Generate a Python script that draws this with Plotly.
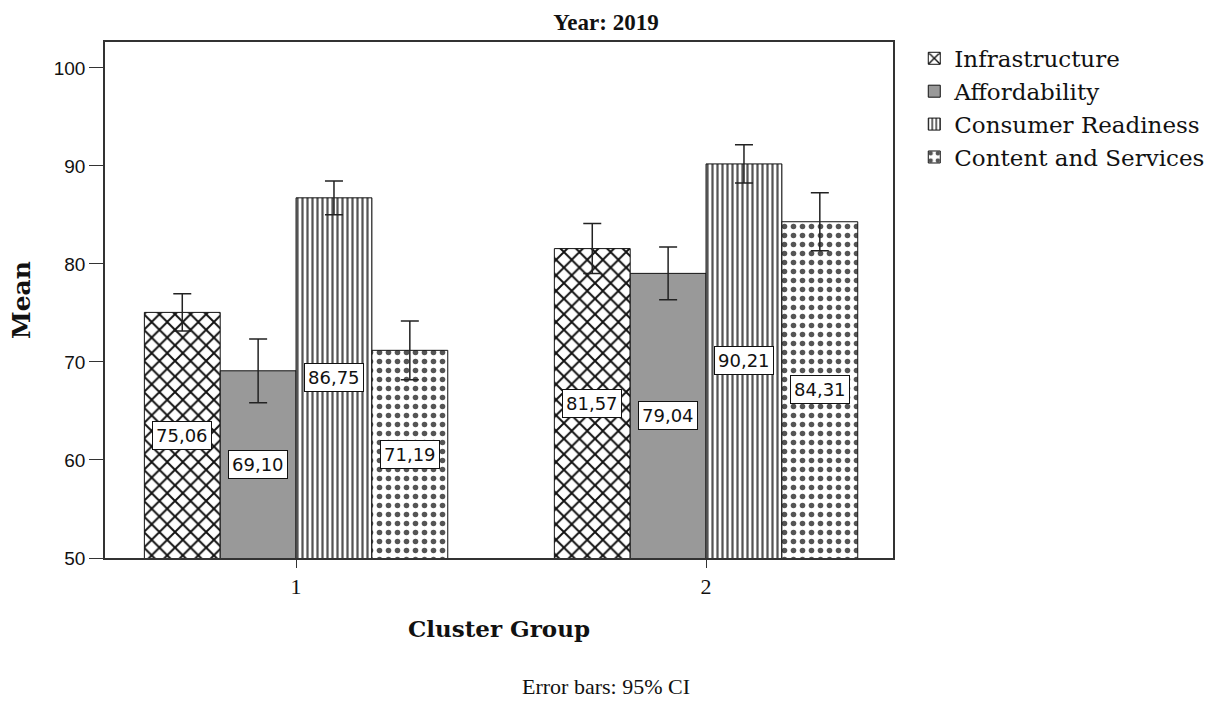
import plotly.graph_objects as go

# Cluster means by pillar, with 95% CI half-widths
clusters = [1, 2]
series_names = ["Infrastructure", "Affordability", "Consumer Readiness", "Content and Services"]
infrastructure = [75.06, 81.57]
affordability = [69.10, 79.04]
consumer_readiness = [86.75, 90.21]
content_services = [71.19, 84.31]

infrastructure_ci = [1.90, 2.55]
affordability_ci = [3.25, 2.70]
consumer_readiness_ci = [1.72, 1.95]
content_services_ci = [3.00, 2.95]

y_ticks = [50, 60, 70, 80, 90, 100]

values = [infrastructure, affordability, consumer_readiness, content_services]
cis = [infrastructure_ci, affordability_ci, consumer_readiness_ci, content_services_ci]

patterns = [
    dict(shape="x", fgcolor="#111111", bgcolor="white", size=11, solidity=0.32, fillmode="replace"),
    None,
    dict(shape="|", fgcolor="#555555", bgcolor="white", size=5, solidity=0.45, fillmode="replace"),
    dict(shape=".", fgcolor="#555555", bgcolor="white", size=9, solidity=0.3, fillmode="replace"),
]

SERIF = "Liberation Serif"
WIDE_SERIF = "DejaVu Serif"
SANS = "DejaVu Sans"
INK = "#111111"

bargap = 0.26
bar_w = (1 - bargap) / len(series_names)

fig = go.Figure()
for name, vals, ci, pat in zip(series_names, values, cis, patterns):
    marker = dict(line=dict(color=INK, width=1))
    if pat is None:
        marker["color"] = "#999999"
    else:
        marker["color"] = "white"
        marker["pattern"] = pat
    fig.add_trace(go.Bar(
        name=name,
        x=clusters,
        y=vals,
        marker=marker,
        error_y=dict(type="data", array=ci, visible=True, color="#222222",
                     thickness=1.5, width=9),
    ))

# value labels in boxes at the middle of each bar
annotations = []
for i, vals in enumerate(values):
    for c, v in zip(clusters, vals):
        annotations.append(dict(
            x=c + (i - 1.5) * bar_w,
            y=(y_ticks[0] + v) / 2,
            xref="x", yref="y",
            text=f"{v:.2f}".replace(".", ","),
            showarrow=False,
            font=dict(family=SANS, size=18, color=INK),
            bgcolor="white",
            bordercolor=INK,
            borderwidth=1,
            borderpad=3,
        ))

# footnote centred on the page width
annotations.append(dict(
    x=(606 - 105) / 788, y=-(686 - 558) / 516, xref="paper", yref="paper",
    text="Error bars: 95% CI", showarrow=False,
    font=dict(family=SERIF, size=22, color=INK),
    xanchor="center", yanchor="middle",
))

fig.update_layout(
    width=1212, height=702,
    margin=dict(l=105, r=319, t=42, b=144, autoexpand=False),
    paper_bgcolor="white",
    plot_bgcolor="white",
    barmode="group",
    bargap=bargap,
    bargroupgap=0,
    title=dict(text="<b>Year: 2019</b>", x=0.5, xanchor="center", y=0.969, yanchor="middle",
               font=dict(family=SERIF, size=23, color=INK)),
    legend=dict(x=1.027, y=1.01, xanchor="left", yanchor="top",
                font=dict(family=WIDE_SERIF, size=23, color=INK),
                bgcolor="rgba(0,0,0,0)"),
    annotations=annotations,
    showlegend=True,
)

fig.update_xaxes(
    range=[0.534, 2.456],
    tickvals=clusters,
    ticktext=[str(c) for c in clusters],
    ticks="outside", ticklen=8, tickcolor="#333333",
    showline=True, linecolor="#333333", linewidth=1.5, mirror=True,
    showgrid=False, zeroline=False,
    tickfont=dict(family=SERIF, size=22, color=INK),
    title=dict(text="<b>Cluster Group</b>", standoff=23,
               font=dict(family=WIDE_SERIF, size=23, color=INK)),
)
fig.update_yaxes(
    range=[50, 102.65],
    tickvals=y_ticks,
    ticks="outside", ticklen=14, tickcolor="#333333",
    showline=True, linecolor="#333333", linewidth=1.5, mirror=True,
    showgrid=False, zeroline=False,
    tickfont=dict(family="Liberation Sans", size=19, color=INK),
    title=dict(text="<b>Mean</b>", standoff=16,
               font=dict(family=WIDE_SERIF, size=25, color=INK)),
)

fig.write_html("out.html")
